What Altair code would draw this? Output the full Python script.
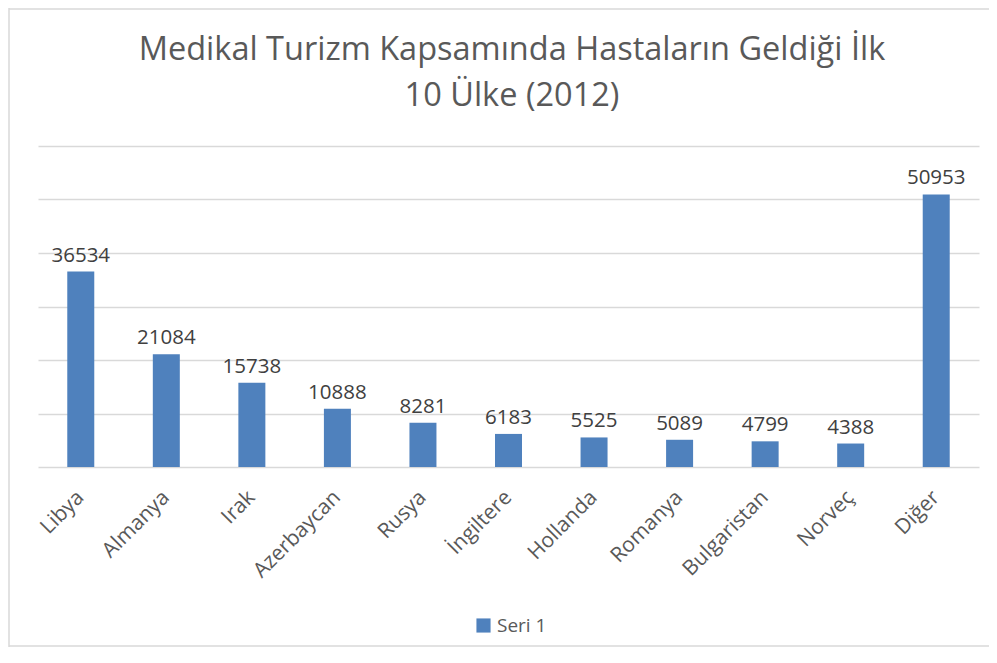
import altair as alt
import pandas as pd

countries = ["Libya", "Almanya", "Irak", "Azerbaycan", "Rusya", "İngiltere",
             "Hollanda", "Romanya", "Bulgaristan", "Norveç", "Diğer"]
values = [36534, 21084, 15738, 10888, 8281, 6183, 5525, 5089, 4799, 4388, 50953]
series_name = ["Seri 1"] * len(countries)
y_ticks = [0, 10000, 20000, 30000, 40000, 50000, 60000]
title_lines = ["Medikal Turizm Kapsamında Hastaların Geldiği İlk", "10 Ülke (2012)"]

df = pd.DataFrame({"country": countries, "value": values, "series": series_name})
one = pd.DataFrame({"k": [0]})

FONT = "Open Sans"
BLUE = "#4F81BD"
GRID = "#D9D9D9"

x = alt.X("country:N", sort=countries,
          scale=alt.Scale(paddingInner=0.684, paddingOuter=0.342),
          axis=alt.Axis(title=None, labelAngle=-45, labelAlign="right",
                        labelBaseline="middle", labelPadding=27, ticks=False,
                        domain=False, labelFont=FONT, labelFontSize=21,
                        labelColor="#595959"))
y = alt.Y("value:Q", scale=alt.Scale(domain=[0, 60000], nice=False),
          axis=alt.Axis(title=None, values=y_ticks, labels=False, ticks=False,
                        domain=False, grid=True, gridColor=GRID, gridWidth=1.3))

bars = alt.Chart(df).mark_bar(size=27).encode(
    x=x, y=y,
    color=alt.Color("series:N", scale=alt.Scale(range=[BLUE]),
                    legend=alt.Legend(title=None, orient="none", legendX=436,
                                      legendY=470, symbolType="square",
                                      symbolSize=200, symbolStrokeWidth=0,
                                      labelFont=FONT, labelFontSize=19,
                                      labelColor="#595959")))

labels = alt.Chart(df).mark_text(baseline="bottom", dy=-6, font=FONT,
                                  fontSize=20.5, color="#404040").encode(
    x=alt.X("country:N", sort=countries), y="value:Q", text="value:Q")

title1 = alt.Chart(one).mark_text(text=title_lines[0], font=FONT, fontSize=32.5,
                                  color="#595959", align="center",
                                  baseline="alphabetic").encode(
    x=alt.value(474), y=alt.value(-86))
title2 = alt.Chart(one).mark_text(text=title_lines[1], font=FONT, fontSize=32.5,
                                  color="#595959", align="center",
                                  baseline="alphabetic").encode(
    x=alt.value(474), y=alt.value(-40))

border_left = alt.Chart(one).mark_rule(color=GRID, strokeWidth=1.5).encode(
    x=alt.value(-29), y=alt.value(-138), y2=alt.value(501))
border_top = alt.Chart(one).mark_rule(color=GRID, strokeWidth=1.5).encode(
    x=alt.value(-29), x2=alt.value(960), y=alt.value(-137))
border_bottom = alt.Chart(one).mark_rule(color=GRID, strokeWidth=1.5).encode(
    x=alt.value(-29), x2=alt.value(960), y=alt.value(500))

chart = alt.layer(border_left, border_top, border_bottom, title1, title2,
                  bars, labels).properties(
    width=941, height=321,
    autosize=alt.AutoSizeParams(type="none"),
    padding={"left": 30, "top": 138, "right": 10, "bottom": 188},
).configure(background="white").configure_view(strokeWidth=0)

chart.save("out.html", embed_options={"renderer": "svg", "actions": False})
